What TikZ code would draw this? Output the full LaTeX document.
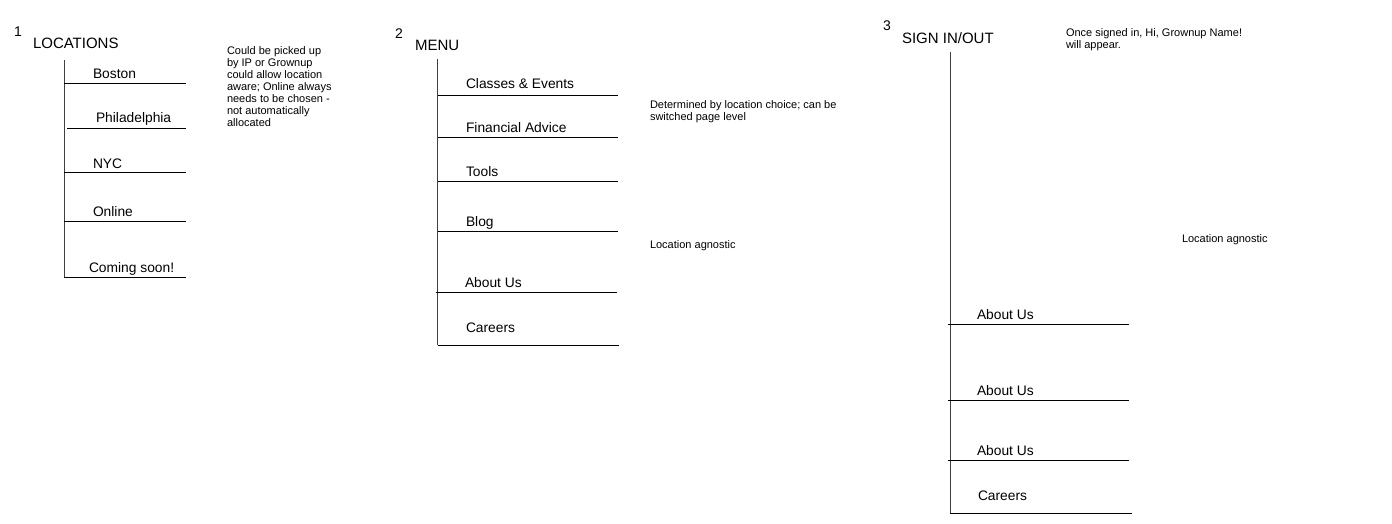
\documentclass[tikz,border=0pt]{standalone}
\usepackage{fontspec}
\setmainfont{Liberation Sans}
\begin{document}
\begin{tikzpicture}[x=1pt,y=-1pt,
  txt/.style={anchor=base west,inner sep=0pt,outer sep=0pt},
  numlbl/.style={txt,font=\fontsize{14}{16}\selectfont},
  headlbl/.style={txt,font=\fontsize{15}{17}\selectfont},
  itemlbl/.style={txt,font=\fontsize{13.8}{16}\selectfont},
  notelbl/.style={txt,align=left,font=\fontsize{11}{12}\selectfont},
  rule/.style={draw=black,line width=1pt},
  spine/.style={draw=black!75,line width=1pt}]
\useasboundingbox[fill=white] (0,0) rectangle (1392,524);

% ---------- Section 1 ----------
\node[numlbl] (n1) at (14,36.7) {1};
\node[headlbl] (h1) at (33,48.5) {LOCATIONS};
\draw[spine] (64.3,60) -- (64.3,277);
\draw[rule] (64,84) -- (186,84);
\draw[rule] (67,128.3) -- (186,128.3);
\draw[rule] (64,172) -- (186,172);
\draw[rule] (64,221.5) -- (186,221.5);
\draw[rule] (64,277) -- (186,277);
\node[itemlbl] (boston) at (93,79) {Boston};
\node[itemlbl] (phila) at (96,122.7) {Philadelphia};
\node[itemlbl] (nyc) at (93,168.3) {NYC};
\node[itemlbl] (online) at (93,216.7) {Online};
\node[itemlbl] (soon) at (89,272.7) {Coming soon!};
% base anchor of a multi-line node = baseline of its last line
\node[notelbl] (note1) at (227,126.5) {Could be picked up\\by IP or Grownup\\could allow location\\aware; Online always\\needs to be chosen -\\not automatically\\allocated};

% ---------- Section 2 ----------
\node[numlbl] (n2) at (395,38.3) {2};
\node[headlbl] (h2) at (415,50.5) {MENU};
\draw[spine] (437.7,59.3) -- (437.7,345);
\draw[rule] (438,95.3) -- (617.7,95.3);
\draw[rule] (438,137.3) -- (617.7,137.3);
\draw[rule] (438,181.3) -- (617.7,181.3);
\draw[rule] (438,231.3) -- (617.7,231.3);
\draw[rule] (436,292.3) -- (616.7,292.3);
\draw[rule] (437.7,345) -- (619.3,345);
\node[itemlbl] (classes) at (466,88.3) {Classes \& Events};
\node[itemlbl] (fin) at (466,132.3) {Financial Advice};
\node[itemlbl] (tools) at (466,176.7) {Tools};
\node[itemlbl] (blog) at (466,226.5) {Blog};
\node[itemlbl] (about2) at (465,287.7) {About Us};
\node[itemlbl] (careers2) at (466,332.3) {Careers};
\node[notelbl] (note2) at (650,121) {Determined by location choice; can be\\switched page level};
\node[notelbl] (note3) at (650,248.3) {Location agnostic};

% ---------- Section 3 ----------
\node[numlbl] (n3) at (883,30.7) {3};
\node[headlbl] (h3) at (902,43.3) {SIGN IN/OUT};
\draw[spine] (950,52.3) -- (950,513.3);
\draw[rule] (948,324.3) -- (1129,324.3);
\draw[rule] (948,400.3) -- (1129,400.3);
\draw[rule] (948,460.3) -- (1129,460.3);
\draw[rule] (950,513.3) -- (1131.7,513.3);
\node[itemlbl] (about3a) at (977,319.3) {About Us};
\node[itemlbl] (about3b) at (977,395.3) {About Us};
\node[itemlbl] (about3c) at (977,455.3) {About Us};
\node[itemlbl] (careers3) at (978,500) {Careers};
\node[notelbl] (note4) at (1066,48.5) {Once signed in, Hi, Grownup Name!\\will appear.};
\node[notelbl] (note5) at (1182,242.3) {Location agnostic};
\end{tikzpicture}
\end{document}
